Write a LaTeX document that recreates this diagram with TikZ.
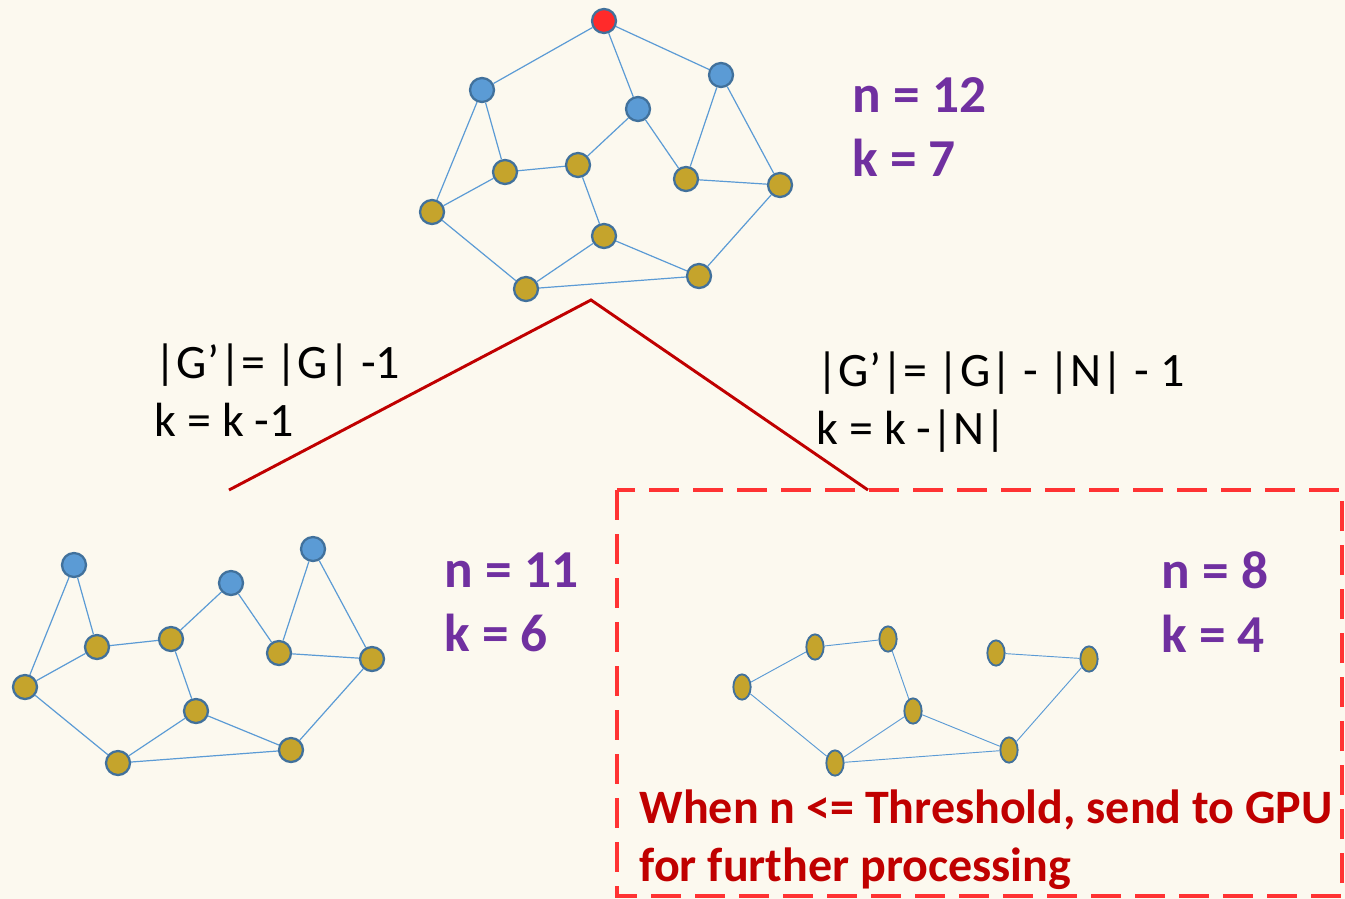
\documentclass[tikz,border=0pt]{standalone}
\usepackage{fontspec}
\setmainfont{Carlito}
\usepackage{xcolor}
\usetikzlibrary{arrows.meta,positioning,shapes.geometric}

\definecolor{bgcream}{HTML}{FCF9EF}
\definecolor{vblue}{HTML}{5B9BD5}
\definecolor{vgold}{HTML}{C5A42C}
\definecolor{vred}{HTML}{FF2A2A}
\definecolor{vrim}{HTML}{41719C}
\definecolor{npurple}{HTML}{7030A0}
\definecolor{darkred}{HTML}{C00000}
\definecolor{boxred}{HTML}{FF3333}

\begin{document}
\begin{tikzpicture}[
    x=0.75pt, y=-0.75pt,
    vtx/.style={circle, draw=vrim, line width=1.7pt, minimum size=18pt, inner sep=0pt},
    bv/.style={vtx, fill=vblue},
    gv/.style={vtx, fill=vgold},
    rv/.style={vtx, fill=vred},
    sv/.style={ellipse, draw=vrim, line width=1.4pt, fill=vgold, minimum width=13pt, minimum height=19pt, inner sep=0pt},
    edge/.style={draw=vblue, line width=0.9pt},
    count/.style={anchor=west, font=\fontsize{40}{48}\selectfont\bfseries, text=npurple, align=left},
    rule/.style={anchor=west, font=\fontsize{36}{43}\selectfont, align=left},
    branch/.style={draw=darkred, line width=2.2pt},
    gpubox/.style={draw=boxred, line width=3pt, dash pattern=on 22.5pt off 10.5pt}
]
    \useasboundingbox[fill=bgcream] (0,0) rectangle (1345,899);

    % Original graph
    \node[rv] (r) at (604,21) {};
    \node[bv] (b1) at (482,90) {};
    \node[bv] (b2) at (638,109) {};
    \node[bv] (b3) at (721,75) {};
    \node[gv] (g1) at (505,172) {};
    \node[gv] (g2) at (578,165) {};
    \node[gv] (g3) at (686,179) {};
    \node[gv] (g4) at (780,185) {};
    \node[gv] (g5) at (432,212) {};
    \node[gv] (g6) at (604,236) {};
    \node[gv] (g7) at (526,289) {};
    \node[gv] (g8) at (699,276) {};
    \draw[edge] (r) -- (b1) (r) -- (b2) (r) -- (b3);
    \draw[edge] (b1) -- (g5) (b1) -- (g1) (b2) -- (g2) (b2) -- (g3) (b3) -- (g3) (b3) -- (g4);
    \draw[edge] (g1) -- (g2) (g1) -- (g5) (g3) -- (g4) (g5) -- (g7) (g2) -- (g6);
    \draw[edge] (g6) -- (g7) (g6) -- (g8) (g7) -- (g8) (g4) -- (g8);
    \node[count] (ntop) at (848,127) {n = 12\\k = 7};

    % Branch lines
    \coordinate (apex) at (591,300);
    \coordinate (lend) at (229,490);
    \coordinate (rend) at (868,490);
    \draw[branch] (lend) -- (apex) -- (rend);
    \node[rule] (lrule) at (150,390) {|G’|= |G| -1\\k = k -1};
    \node[rule] (rrule) at (812,402) {|G’|= |G| - |N| - 1\\k = k -|N|};

    % Left child: red vertex removed
    \node[bv] (lb1) at (74,565) {};
    \node[bv] (lb2) at (231,583) {};
    \node[bv] (lb3) at (313,549) {};
    \node[gv] (lg1) at (97,647) {};
    \node[gv] (lg2) at (171,639) {};
    \node[gv] (lg3) at (279,653) {};
    \node[gv] (lg4) at (372,659) {};
    \node[gv] (lg5) at (25,687) {};
    \node[gv] (lg6) at (196,711) {};
    \node[gv] (lg7) at (118,763) {};
    \node[gv] (lg8) at (291,750) {};
    \draw[edge] (lb1) -- (lg5) (lb1) -- (lg1) (lb2) -- (lg2) (lb2) -- (lg3) (lb3) -- (lg3) (lb3) -- (lg4);
    \draw[edge] (lg1) -- (lg2) (lg1) -- (lg5) (lg3) -- (lg4) (lg5) -- (lg7) (lg2) -- (lg6);
    \draw[edge] (lg6) -- (lg7) (lg6) -- (lg8) (lg7) -- (lg8) (lg4) -- (lg8);
    \node[count] (nleft) at (440,602) {n = 11\\k = 6};

    % Right child: neighbourhood removed
    \node[sv] (rg1) at (815,647) {};
    \node[sv] (rg2) at (888,639) {};
    \node[sv] (rg3) at (996,653) {};
    \node[sv] (rg4) at (1089,659) {};
    \node[sv] (rg5) at (742,687) {};
    \node[sv] (rg6) at (913,711) {};
    \node[sv] (rg7) at (835,763) {};
    \node[sv] (rg8) at (1009,750) {};
    \draw[edge, line width=0.7pt] (rg1) -- (rg2) (rg1) -- (rg5) (rg3) -- (rg4) (rg5) -- (rg7) (rg2) -- (rg6);
    \draw[edge, line width=0.7pt] (rg6) -- (rg7) (rg6) -- (rg8) (rg7) -- (rg8) (rg4) -- (rg8);
    \node[count] (nright) at (1157,602) {n = 8\\k = 4};

    % GPU hand-off
    \draw[gpubox] (617,490) rectangle (1342,896);
    \node[anchor=west, font=\fontsize{36}{43.5}\selectfont\bfseries, text=darkred, align=left] (gpu) at (635,840) {When n <= Threshold, send to GPU\\for further processing};
\end{tikzpicture}
\end{document}
